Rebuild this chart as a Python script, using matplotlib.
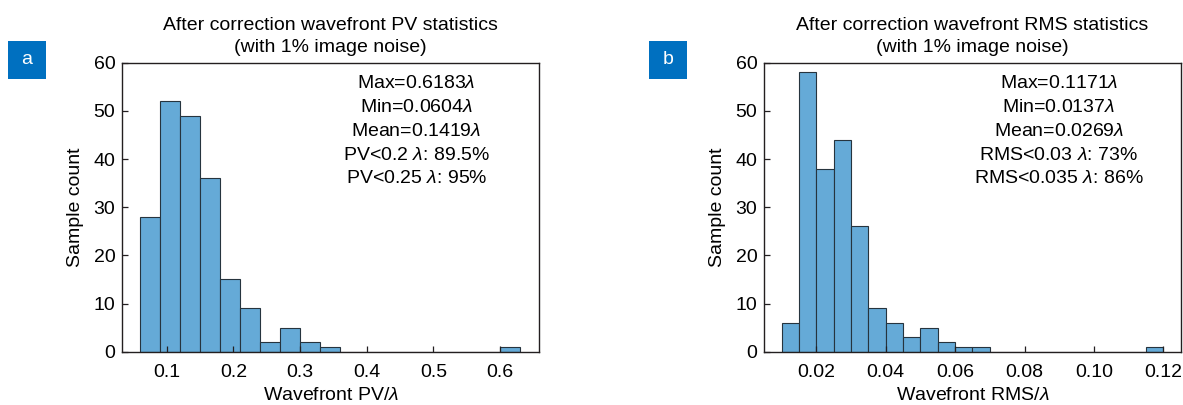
import matplotlib
matplotlib.use("Agg")
import matplotlib.pyplot as plt
from matplotlib.patches import Rectangle

plt.rcParams["font.family"] = ["Liberation Sans", "DejaVu Sans"]
plt.rcParams["mathtext.fontset"] = "custom"
plt.rcParams["mathtext.it"] = "Liberation Sans:italic"
plt.rcParams["mathtext.rm"] = "Liberation Sans"

# histogram data (200 samples each)
pv_edges = [0.06, 0.09, 0.12, 0.15, 0.18, 0.21, 0.24, 0.27, 0.30, 0.33,
            0.36, 0.39, 0.42, 0.45, 0.48, 0.51, 0.54, 0.57, 0.60, 0.63]
pv_counts = [28, 52, 49, 36, 15, 9, 2, 5, 2, 1,
             0, 0, 0, 0, 0, 0, 0, 0, 1]

rms_edges = [0.010, 0.015, 0.020, 0.025, 0.030, 0.035, 0.040, 0.045, 0.050,
             0.055, 0.060, 0.065, 0.070, 0.075, 0.080, 0.085, 0.090, 0.095,
             0.100, 0.105, 0.110, 0.115, 0.120]
rms_counts = [6, 58, 38, 44, 26, 9, 6, 3, 5, 2, 1, 1,
              0, 0, 0, 0, 0, 0, 0, 0, 0, 1]

pv_ticks = [0.1, 0.2, 0.3, 0.4, 0.5, 0.6]
pv_ticklabels = ["0.1", "0.2", "0.3", "0.4", "0.5", "0.6"]
rms_ticks = [0.02, 0.04, 0.06, 0.08, 0.10, 0.12]
rms_ticklabels = ["0.02", "0.04", "0.06", "0.08", "0.10", "0.12"]
y_ticks = [0, 10, 20, 30, 40, 50, 60]

pv_stats = ["Max=0.6183$\\lambda$", "Min=0.0604$\\lambda$", "Mean=0.1419$\\lambda$",
            "PV<0.2 $\\lambda$: 89.5%", "PV<0.25 $\\lambda$: 95%"]
rms_stats = ["Max=0.1171$\\lambda$", "Min=0.0137$\\lambda$", "Mean=0.0269$\\lambda$",
             "RMS<0.03 $\\lambda$: 73%", "RMS<0.035 $\\lambda$: 86%"]

BAR = "#65aad7"
EDGE = "#26343e"
AXC = "#231f20"
FS = 14

fig = plt.figure(figsize=(11.83, 4.05), dpi=100)


def draw_panel(rect, edges, counts, xlim, ticks, ticklabels, title, xlabel,
               stats, stats_x, letter, letter_x):
    ax = fig.add_axes(rect)
    widths = [edges[i + 1] - edges[i] for i in range(len(counts))]
    ax.bar(edges[:-1], counts, width=widths, align="edge", color=BAR,
           edgecolor=EDGE, linewidth=0.8)
    ax.set_xlim(*xlim)
    ax.set_ylim(0, 60)
    ax.set_xticks(ticks)
    ax.set_xticklabels(ticklabels)
    ax.set_yticks(y_ticks)
    ax.tick_params(direction="in", length=4, width=0.9, color=AXC,
                   labelsize=FS, top=False, right=False)
    ax.tick_params(axis="x", pad=8.5)
    ax.tick_params(axis="y", pad=5)
    for s in ax.spines.values():
        s.set_color(AXC)
        s.set_linewidth(1.0)
    ax.set_title(title, fontsize=FS, linespacing=1.35, pad=8)
    ax.set_xlabel(xlabel, fontsize=FS, labelpad=5)
    ax.set_ylabel("Sample count", fontsize=FS, labelpad=7)
    ax.text(stats_x, 0.958, "\n".join(stats), transform=ax.transAxes,
            ha="center", va="top", fontsize=FS, linespacing=1.53)

    # panel letter in blue square
    fig.add_artist(Rectangle((letter_x, 326 / 405), 38 / 1183, 38 / 405,
                             transform=fig.transFigure, facecolor="#0070c0",
                             edgecolor="none"))
    fig.text(letter_x + 19 / 1183, 346 / 405, letter, color="white",
             ha="center", va="center", fontsize=FS)
    return ax


draw_panel([122.3 / 1183, 53.3 / 405, 417 / 1183, 289 / 405],
           pv_edges, pv_counts, (0.0333, 0.659), pv_ticks, pv_ticklabels,
           "After correction wavefront PV statistics\n(with 1% image noise)",
           "Wavefront PV/$\\lambda$", pv_stats, 0.705, "a", 8 / 1183)

draw_panel([764.3 / 1183, 53.3 / 405, 416.4 / 1183, 289 / 405],
           rms_edges, rms_counts, (0.005, 0.125), rms_ticks, rms_ticklabels,
           "After correction wavefront RMS statistics\n(with 1% image noise)",
           "Wavefront RMS/$\\lambda$", rms_stats, 0.7075, "b", 649 / 1183)

fig.savefig("out.png", dpi=100)
